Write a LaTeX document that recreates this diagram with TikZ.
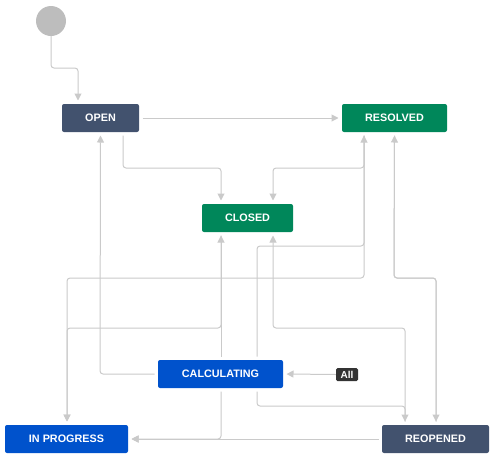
\documentclass[tikz,border=0pt]{standalone}
\usepackage{fontspec}
\setmainfont{Liberation Sans}
\usepackage{xcolor}
\usetikzlibrary{arrows.meta}
\definecolor{slateblue}{HTML}{42526E}
\definecolor{doneg}{HTML}{00875A}
\definecolor{jirablue}{HTML}{0052CC}
\definecolor{wiregray}{HTML}{CACACA}
\definecolor{startgray}{HTML}{BDBDBD}
\definecolor{tagdark}{HTML}{333333}

\begin{document}
\begin{tikzpicture}[x=1pt,y=-1pt,
    every node/.style={font=\fontsize{10.8}{12}\selectfont\bfseries,text=white},
    state/.style={rectangle,rounded corners=2pt,minimum height=28,inner sep=0pt,outer sep=3.5pt},
    flow/.style={draw=wiregray,line width=1pt,rounded corners=3pt,-{Triangle[length=7pt,width=7pt]}}]
    \useasboundingbox (0,0) rectangle (495,461);
    \fill[startgray] (51,21) circle (15);
    \coordinate (start) at (51,36);
    \foreach \name/\x/\y/\w/\col/\txt in {
      open/100.5/118/77/slateblue/OPEN,
      resolved/394.5/118/105/doneg/RESOLVED,
      closed/247.5/218/91/doneg/CLOSED,
      calc/220.5/374/125/jirablue/CALCULATING,
      inprog/66.5/439/123/jirablue/IN PROGRESS,
      reopened/435.5/439/107/slateblue/REOPENED
    } {
      \node[state,fill=\col,minimum width=\w] (\name) at (\x,\y) {\txt};
    }
    \node[fill=tagdark,rounded corners=1.5pt,minimum width=22,minimum height=13,inner sep=0pt,
      font=\fontsize{10}{11}\selectfont\bfseries] (all) at (347,374.5) {All};
    % transitions
    \draw[flow] (start) -- (51,68) -- (78,68) -- ([xshift=-22.5]open.north);
    \draw[flow] (open.east) -- (resolved.west);
    \draw[flow] ([xshift=22.5]open.south) -- (123,168) -- (221,168) -- ([xshift=-26.5]closed.north);
    \draw[flow] ([xshift=-30.5]resolved.south) -- (364,168) -- (273,168) -- ([xshift=25.5]closed.north);
    \draw[flow] ([xshift=-30.5]resolved.south) -- (364,278) -- (67,278) -- ([xshift=0.5]inprog.north);
    \draw[flow] ([xshift=36.5]calc.north) -- (257,246) -- (364,246) -- ([xshift=-30.5]resolved.south);
    \draw[flow] ([xshift=36.5]calc.south) -- (257,406) -- (405,406) -- ([xshift=-30.5]reopened.north);
    \draw[flow] ([xshift=-26.5]closed.south) -- (221,328) -- (67,328) -- ([xshift=0.5]inprog.north);
    \draw[flow] ([xshift=0.5]calc.north) -- ([xshift=-26.5]closed.south);
    \draw[flow] ([xshift=0.5]calc.south) -- (221,439) -- (inprog.east);
    \draw[flow] (reopened.west) -- (inprog.east);
    \draw[flow] (calc.west) -- (100,374) -- (open.south);
    \draw[flow] ([xshift=-30.5]reopened.north) -- (405,328) -- (273,328) -- ([xshift=25.5]closed.south);
    \draw[flow] ([xshift=0.5]reopened.north) -- (436,278) -- (394,278) -- (resolved.south);
    \draw[flow] (resolved.south) -- (394,278) -- (436,278) -- ([xshift=0.5]reopened.north);
    \draw[flow] (all.west) -- (calc.east);
  \end{tikzpicture}
\end{document}
